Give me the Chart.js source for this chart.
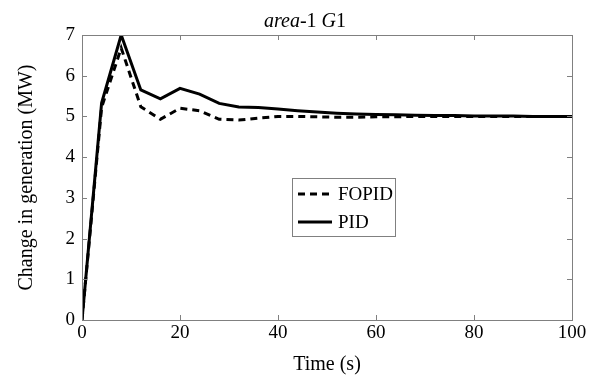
<!DOCTYPE html>
<html>
<head>
<meta charset="utf-8">
<script src="https://cdn.jsdelivr.net/npm/chart.js@4.4.1/dist/chart.umd.min.js"></script>
<style>
  html, body { margin: 0; padding: 0; background: #fff; }
  #wrap { width: 600px; height: 379px; position: relative; }
</style>
</head>
<body>
<div id="wrap"><canvas id="c" width="600" height="379"></canvas></div>
<script>
// ---- data ----
const time  = [0, 4, 8, 12, 16, 20, 24, 28, 32, 36, 40, 44, 48, 52, 56, 60, 64, 68, 72, 76, 80, 84, 88, 92, 96, 100];
const pid   = [0, 5.33, 7.0, 5.65, 5.43, 5.69, 5.55, 5.32, 5.23, 5.22, 5.18, 5.14, 5.11, 5.08, 5.06, 5.05, 5.04, 5.03, 5.02, 5.02, 5.01, 5.01, 5.01, 5.0, 5.0, 5.0];
const fopid = [0, 5.22, 6.68, 5.24, 4.93, 5.2, 5.14, 4.93, 4.91, 4.96, 5.0, 5.0, 4.99, 4.98, 4.98, 4.99, 4.99, 5.0, 5.0, 5.0, 5.0, 5.0, 5.0, 5.0, 5.0, 5.0];
const xTicks = [0, 20, 40, 60, 80, 100];
const yTicks = [0, 1, 2, 3, 4, 5, 6, 7];
const seriesNames = ['FOPID', 'PID'];
const titleParts = [['area', true], ['-1 ', false], ['G', true], ['1', false]];
const xLabel = 'Time (s)';
const yLabel = 'Change in generation (MW)';

const FONT = '"Liberation Serif", "Times New Roman", serif';
const AXIS = '#808080';

const toXY = (ys) => time.map((t, i) => ({ x: t, y: ys[i] }));

const framePlugin = {
  id: 'frame',
  afterDraw(chart) {
    const ctx = chart.ctx;
    const xs = chart.scales.x, ys = chart.scales.y;
    const a = chart.chartArea;
    ctx.save();
    // box
    ctx.strokeStyle = AXIS;
    ctx.lineWidth = 1;
    ctx.strokeRect(Math.round(a.left) + 0.5, Math.round(a.top) + 0.5, Math.round(a.right - a.left), Math.round(a.bottom - a.top));
    // inward ticks
    const L = 5;
    ctx.beginPath();
    xTicks.forEach(v => {
      const px = Math.round(xs.getPixelForValue(v)) + 0.5;
      ctx.moveTo(px, a.bottom); ctx.lineTo(px, a.bottom - L);
      ctx.moveTo(px, a.top); ctx.lineTo(px, a.top + L);
    });
    yTicks.forEach(v => {
      const py = Math.round(ys.getPixelForValue(v)) + 0.5;
      ctx.moveTo(a.left, py); ctx.lineTo(a.left + L, py);
      ctx.moveTo(a.right, py); ctx.lineTo(a.right - L, py);
    });
    ctx.stroke();

    // title with mixed italics
    ctx.fillStyle = '#000';
    ctx.textBaseline = 'alphabetic';
    ctx.textAlign = 'left';
    const fs = 20;
    let total = 0;
    titleParts.forEach(([t, it]) => { ctx.font = (it ? 'italic ' : '') + fs + 'px ' + FONT; total += ctx.measureText(t).width; });
    let x0 = 305 - total / 2;
    titleParts.forEach(([t, it]) => { ctx.font = (it ? 'italic ' : '') + fs + 'px ' + FONT; ctx.fillText(t, x0, 27); x0 += ctx.measureText(t).width; });

    // legend
    const bx = 292, by = 178, bw = 103, bh = 58;
    ctx.fillStyle = '#fff';
    ctx.fillRect(bx, by, bw, bh);
    ctx.strokeStyle = AXIS;
    ctx.lineWidth = 1;
    ctx.strokeRect(bx + 0.5, by + 0.5, bw, bh);
    const rows = [[seriesNames[0], [7, 5], 194], [seriesNames[1], [], 222]];
    rows.forEach(([name, dash, y]) => {
      ctx.strokeStyle = '#000';
      ctx.lineWidth = 3;
      ctx.setLineDash(dash);
      ctx.beginPath(); ctx.moveTo(298, y); ctx.lineTo(332, y); ctx.stroke();
      ctx.setLineDash([]);
      ctx.fillStyle = '#000';
      ctx.font = '19px ' + FONT;
      ctx.textBaseline = 'middle';
      ctx.fillText(name, 338, y + 1);
    });
    ctx.restore();
  }
};

new Chart(document.getElementById('c'), {
  type: 'line',
  data: {
    datasets: [
      { label: seriesNames[1], data: toXY(pid), borderColor: '#000', borderWidth: 3, pointRadius: 0, tension: 0, fill: false },
      { label: seriesNames[0], data: toXY(fopid), borderColor: '#000', borderWidth: 3, borderDash: [7, 5], pointRadius: 0, tension: 0, fill: false }
    ]
  },
  options: {
    responsive: false,
    animation: false,
    devicePixelRatio: 1,
    layout: { padding: { left: 0, right: 28, top: 35, bottom: 0 } },
    plugins: { legend: { display: false }, title: { display: false }, tooltip: { enabled: false } },
    scales: {
      x: {
        type: 'linear', min: 0, max: 100,
        afterBuildTicks: (s) => { s.ticks = xTicks.map(v => ({ value: v })); },
        afterFit: (s) => { s.height = 59; },
        grid: { display: false, drawTicks: false },
        border: { display: false },
        ticks: { color: '#000', font: { family: FONT, size: 19 }, padding: 2, maxRotation: 0 },
        title: { display: true, text: xLabel, color: '#000', font: { family: FONT, size: 20 }, padding: 2 }
      },
      y: {
        type: 'linear', min: 0, max: 7,
        afterBuildTicks: (s) => { s.ticks = yTicks.map(v => ({ value: v })); },
        afterFit: (s) => { s.width = 82; },
        grid: { display: false, drawTicks: false },
        border: { display: false },
        ticks: { color: '#000', font: { family: FONT, size: 19 }, padding: 7 },
        title: { display: true, text: yLabel, color: '#000', font: { family: FONT, size: 20 }, padding: 15 }
      }
    }
  },
  plugins: [framePlugin]
});
</script>
</body>
</html>
